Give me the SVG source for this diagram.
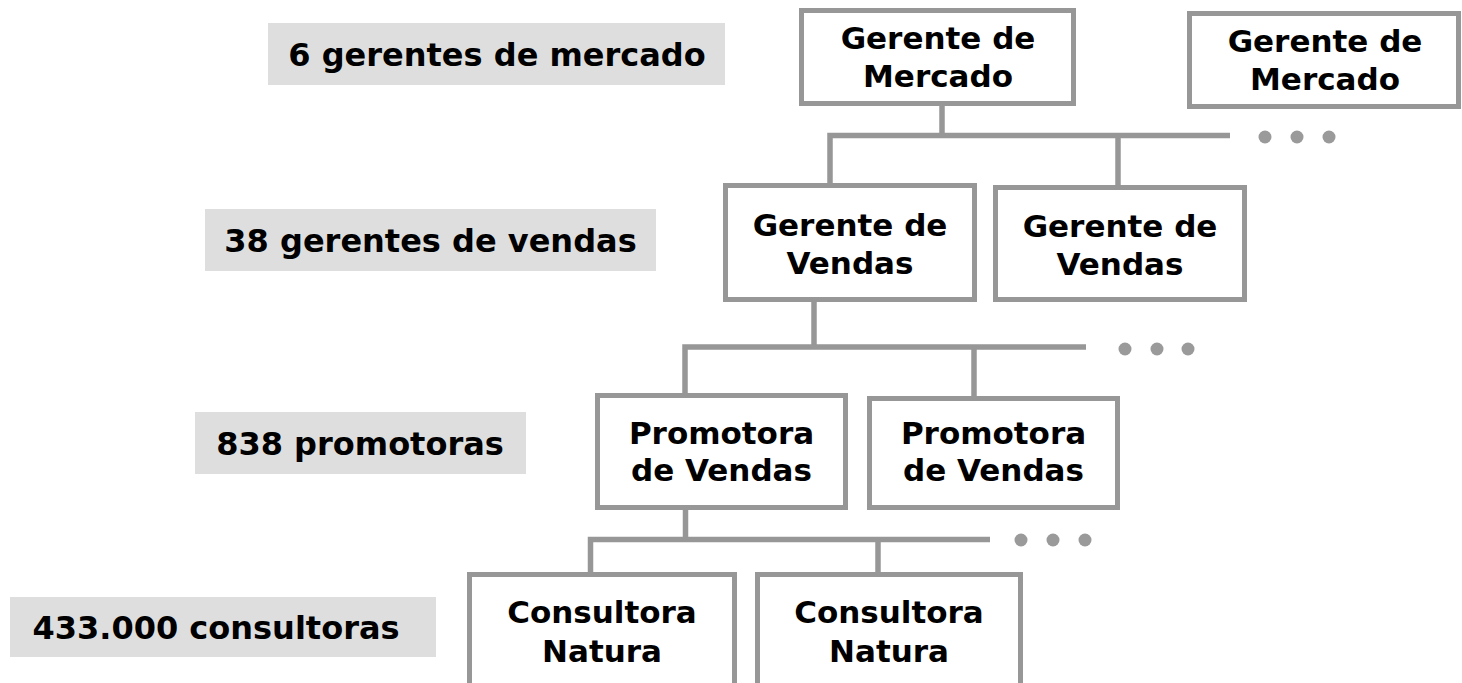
<svg xmlns="http://www.w3.org/2000/svg" width="1462" height="683" viewBox="0 0 1462 683">
<style>
.box{fill:#ffffff;stroke:#979797;stroke-width:5}
.lbl{fill:#dedede}
.t{font-family:"DejaVu Sans","Verdana",sans-serif;font-weight:bold;font-size:31px;fill:#000;text-anchor:middle}
.lt{font-family:"DejaVu Sans","Verdana",sans-serif;font-weight:bold;font-size:32px;fill:#000;text-anchor:middle}
.con{fill:none;stroke:#979797;stroke-width:5.5;stroke-linejoin:miter;stroke-linecap:butt}
.dot{fill:#9a9a9a}
</style>
<rect width="1462" height="683" fill="#ffffff"/>

<g id="labels">
  <g id="label-mercado"><rect class="lbl" x="268" y="23" width="457" height="62"/><text class="lt" x="497" y="66">6 gerentes de mercado</text></g>
  <g id="label-vendas"><rect class="lbl" x="205" y="209" width="451" height="62"/><text class="lt" x="430.5" y="252">38 gerentes de vendas</text></g>
  <g id="label-promotoras"><rect class="lbl" x="195" y="412" width="331" height="62"/><text class="lt" x="360" y="455">838 promotoras</text></g>
  <g id="label-consultoras"><rect class="lbl" x="10" y="597" width="426" height="60"/><text class="lt" x="216" y="639">433.000 consultoras</text></g>
</g>

<g id="connectors">
  <path class="con" d="M942,106 V135.5"/>
  <path class="con" d="M830,183 V135.5 H1230"/>
  <path class="con" d="M1118,135.5 V185"/>
  <path class="con" d="M814,302 V347"/>
  <path class="con" d="M685,393 V347 H1086"/>
  <path class="con" d="M974,347 V396"/>
  <path class="con" d="M685.5,510 V539.5"/>
  <path class="con" d="M590.5,572 V539.5 H990"/>
  <path class="con" d="M878,539.5 V572"/>
  <circle class="dot" cx="1265" cy="137" r="6.5"/>
  <circle class="dot" cx="1297" cy="137" r="6.5"/>
  <circle class="dot" cx="1329" cy="137" r="6.5"/>
  <circle class="dot" cx="1125" cy="349" r="6.5"/>
  <circle class="dot" cx="1157" cy="349" r="6.5"/>
  <circle class="dot" cx="1188" cy="349" r="6.5"/>
  <circle class="dot" cx="1021" cy="540" r="6.5"/>
  <circle class="dot" cx="1053" cy="540" r="6.5"/>
  <circle class="dot" cx="1085" cy="540" r="6.5"/>
</g>

<g id="gm1"><rect class="box" x="801.5" y="10.5" width="272" height="93"/><text class="t" x="938" y="49">Gerente de</text><text class="t" x="938" y="87">Mercado</text></g>
<g id="gm2"><rect class="box" x="1189.5" y="13.5" width="269" height="93"/><text class="t" x="1325" y="52">Gerente de</text><text class="t" x="1325" y="90">Mercado</text></g>
<g id="gv1"><rect class="box" x="725.5" y="185.5" width="249" height="114"/><text class="t" x="850" y="236">Gerente de</text><text class="t" x="850" y="274">Vendas</text></g>
<g id="gv2"><rect class="box" x="995.5" y="187.5" width="249" height="112"/><text class="t" x="1120" y="237">Gerente de</text><text class="t" x="1120" y="275">Vendas</text></g>
<g id="pv1"><rect class="box" x="597.5" y="395.5" width="248" height="112"/><text class="t" x="721.5" y="444">Promotora</text><text class="t" x="721.5" y="481">de Vendas</text></g>
<g id="pv2"><rect class="box" x="869.5" y="398.5" width="248" height="109"/><text class="t" x="993.5" y="444">Promotora</text><text class="t" x="993.5" y="481">de Vendas</text></g>
<g id="cn1"><rect class="box" x="469.5" y="574.5" width="265" height="150"/><text class="t" x="602" y="623">Consultora</text><text class="t" x="602" y="662">Natura</text></g>
<g id="cn2"><rect class="box" x="757.5" y="574.5" width="263" height="150"/><text class="t" x="889" y="623">Consultora</text><text class="t" x="889" y="662">Natura</text></g>
</svg>
